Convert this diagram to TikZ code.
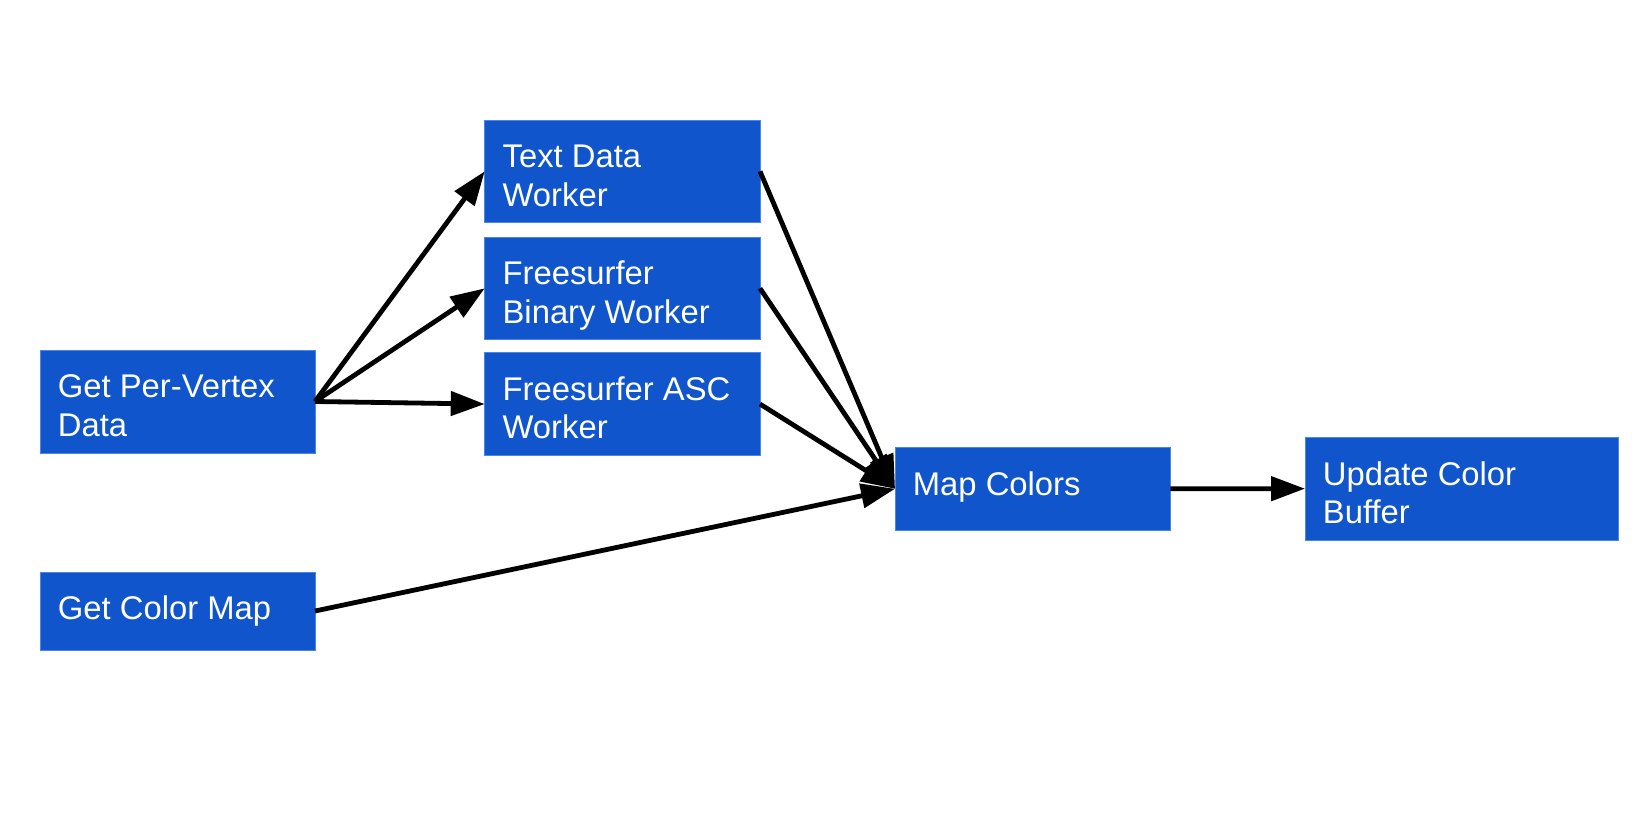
\documentclass[tikz,border=0pt]{standalone}
\usepackage{fontspec}
\setmainfont{Liberation Sans}
\usetikzlibrary{arrows.meta,calc}
\definecolor{boxblue}{HTML}{1155CC}
\definecolor{boxedge}{HTML}{4A86E8}
\begin{document}
\begin{tikzpicture}[x=1bp,y=-1bp,
  box/.style={fill=boxblue, draw=boxedge, line width=0.8bp, inner sep=0pt, outer sep=0pt, anchor=north west},
  lbl/.style={text=white, font=\fontsize{32.8bp}{38.3bp}\selectfont, align=left, inner sep=0pt, anchor=base west},
  conn/.style={line width=4.8bp, -{Triangle[length=34bp,width=24bp]}}]
\useasboundingbox (0,0) rectangle (1648,826);
% boxes
\node[box, minimum width=275bp, minimum height=103bp] (gpv) at (40,350) {};
\node[box, minimum width=275bp, minimum height=78bp] (gcm) at (40,572) {};
\node[box, minimum width=275.3bp, minimum height=102.7bp] (tdw) at (484.7,120) {};
\node[box, minimum width=275.3bp, minimum height=102.7bp] (fbw) at (484.7,237) {};
\node[box, minimum width=275.3bp, minimum height=102.7bp] (asc) at (484.7,352.7) {};
\node[box, minimum width=275.3bp, minimum height=83bp] (map) at (895,447.3) {};
\node[box, minimum width=313bp, minimum height=102.7bp] (upd) at (1305,437.3) {};
% labels (base = baseline of the last line)
\node[lbl] (gpvl) at ($(gpv.north west)+(17.7,86)$) {Get Per-Vertex\\Data};
\node[lbl] (gcml) at ($(gcm.north west)+(17.7,47.7)$) {Get Color Map};
\node[lbl] (tdwl) at ($(tdw.north west)+(17.7,86)$) {Text Data\\Worker};
\node[lbl] (fbwl) at ($(fbw.north west)+(17.7,86)$) {Freesurfer\\Binary Worker};
\node[lbl] (ascl) at ($(asc.north west)+(17.7,86)$) {Freesurfer ASC\\Worker};
\node[lbl] (mapl) at ($(map.north west)+(17.7,47.7)$) {Map Colors};
\node[lbl] (updl) at ($(upd.north west)+(17.7,86)$) {Update Color\\Buffer};
% connectors
\draw[conn] (gpv.east) -- (tdw.west);
\draw[conn] (gpv.east) -- (fbw.west);
\draw[conn] (gpv.east) -- (asc.west);
\draw[conn] (tdw.east) -- (map.west);
\draw[conn] (fbw.east) -- (map.west);
\draw[conn] (asc.east) -- (map.west);
\draw[conn] (gcm.east) -- (map.west);
\draw[conn] (map.east) -- (upd.west);
\end{tikzpicture}
\end{document}
